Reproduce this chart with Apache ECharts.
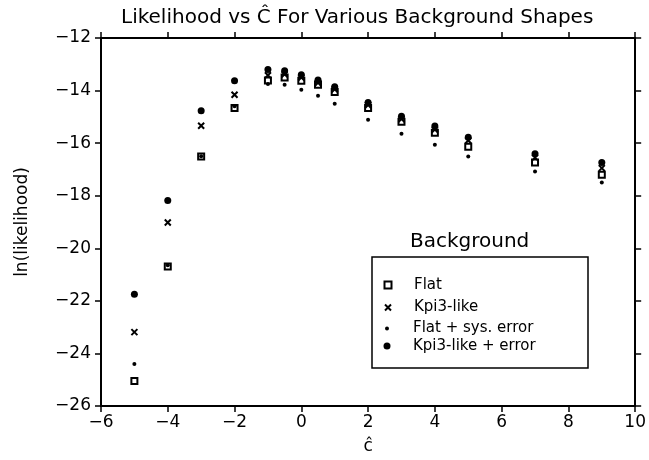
<!DOCTYPE html>
<html>
<head>
<meta charset="utf-8">
<script src="https://cdn.jsdelivr.net/npm/echarts@6/dist/echarts.min.js"></script>
<style>html,body{margin:0;padding:0;background:#fff}#c{width:649px;height:460px}</style>
</head>
<body>
<div id="c"></div>
<script>
const cHat = [-5, -4, -3, -2, -1, -0.5, 0, 0.5, 1, 2, 3, 4, 5, 7, 9];
const flat = [-25.05, -20.69, -16.51, -14.66, -13.62, -13.5, -13.63, -13.78, -14.05, -14.66, -15.19, -15.6, -16.14, -16.74, -17.2];
const kpi3 = [-23.19, -19.02, -15.34, -14.16, -13.42, -13.38, -13.5, -13.7, -13.95, -14.55, -15.08, -15.48, -15.9, -16.55, -16.95];
const flatSys = [-24.4, -20.65, -16.5, -14.6, -13.75, -13.78, -13.97, -14.2, -14.5, -15.11, -15.64, -16.06, -16.51, -17.08, -17.5];
const kpi3Err = [-21.75, -18.18, -14.77, -13.63, -13.2, -13.25, -13.4, -13.6, -13.85, -14.45, -14.98, -15.35, -15.78, -16.4, -16.74];
const seriesNames = ['Flat', 'Kpi3-like', 'Flat + sys. error', 'Kpi3-like + error'];

const FONT = 'DejaVu Sans';
const pair = arr => cHat.map((x, i) => [x, arr[i]]);
const xPath = 'path://M0,0L10,10M10,0L0,10';
const minus = v => (v < 0 ? '−' + Math.abs(v) : '' + v);

const chart = echarts.init(document.getElementById('c'), null, {renderer: 'canvas'});
const axisCommon = {
  axisLine: {show: true, onZero: false, lineStyle: {color: '#000', width: 2}},
  axisTick: {show: true, length: 6, lineStyle: {color: '#000', width: 1.5}},
  splitLine: {show: false}
};
const mkLegend = (name, icon, top, w, h) => ({
  orient: 'vertical', left: 387 - w / 2, top: top - h / 2, itemWidth: w, itemHeight: h,
  padding: 0, selectedMode: false,
  textStyle: {fontFamily: FONT, fontSize: 15, color: '#000', padding: [0, 0, 0, 21 - w / 2]},
  data: [{name: name, icon: icon}]
});
chart.setOption({
  backgroundColor: '#fff',
  animation: false,
  title: {
    text: 'Likelihood vs Ĉ For Various Background Shapes',
    left: 116, top: 3,
    textStyle: {fontFamily: FONT, fontSize: 20, fontWeight: 'normal', color: '#000'}
  },
  grid: {left: 101, right: 9, top: 38, bottom: 53},
  xAxis: [
    Object.assign({type: 'value', position: 'bottom', min: -6, max: 10, interval: 2,
      name: 'ĉ', nameLocation: 'middle', nameGap: 32,
      nameTextStyle: {fontFamily: FONT, fontSize: 17, color: '#000'},
      axisLabel: {fontFamily: FONT, fontSize: 17, color: '#000', margin: 8, formatter: minus}}, axisCommon),
    Object.assign({type: 'value', position: 'top', min: -6, max: 10, interval: 2,
      axisLabel: {show: false}}, axisCommon)
  ],
  yAxis: [
    Object.assign({type: 'value', position: 'left', min: -26, max: -12, interval: 2,
      name: 'ln(likelihood)', nameLocation: 'middle', nameGap: 70, nameRotate: 90,
      nameTextStyle: {fontFamily: FONT, fontSize: 17, color: '#000'},
      axisLabel: {fontFamily: FONT, fontSize: 17, color: '#000', margin: 10, formatter: minus}}, axisCommon),
    Object.assign({type: 'value', position: 'right', min: -26, max: -12, interval: 2,
      axisLabel: {show: false}}, axisCommon)
  ],
  legend: [
    mkLegend(seriesNames[0], 'emptyRect', 281, 7, 7),
    mkLegend(seriesNames[1], xPath, 303, 6, 6),
    mkLegend(seriesNames[2], 'circle', 323, 4, 4),
    mkLegend(seriesNames[3], 'circle', 342, 7, 7)
  ],
  graphic: [
    {type: 'rect', shape: {x: 372, y: 257, width: 216, height: 111},
      style: {fill: 'none', stroke: '#000', lineWidth: 1.5}, z: 10},
    {type: 'text', left: 410, top: 232,
      style: {text: 'Background', fontFamily: FONT, fontSize: 20, fill: '#000'}, z: 10}
  ],
  series: [
    {name: seriesNames[0], type: 'scatter', data: pair(flat), symbol: 'emptyRect', symbolSize: 6,
      itemStyle: {color: '#000', borderColor: '#000', borderWidth: 2, opacity: 1}, z: 3},
    {name: seriesNames[1], type: 'scatter', data: pair(kpi3), symbol: xPath, symbolSize: 6,
      itemStyle: {color: '#000', borderColor: '#000', borderWidth: 2, opacity: 1}, z: 3},
    {name: seriesNames[2], type: 'scatter', data: pair(flatSys), symbol: 'circle', symbolSize: 4,
      itemStyle: {color: '#000', opacity: 1}, z: 3},
    {name: seriesNames[3], type: 'scatter', data: pair(kpi3Err), symbol: 'circle', symbolSize: 7,
      itemStyle: {color: '#000', opacity: 1}, z: 3}
  ]
});
</script>
</body>
</html>
